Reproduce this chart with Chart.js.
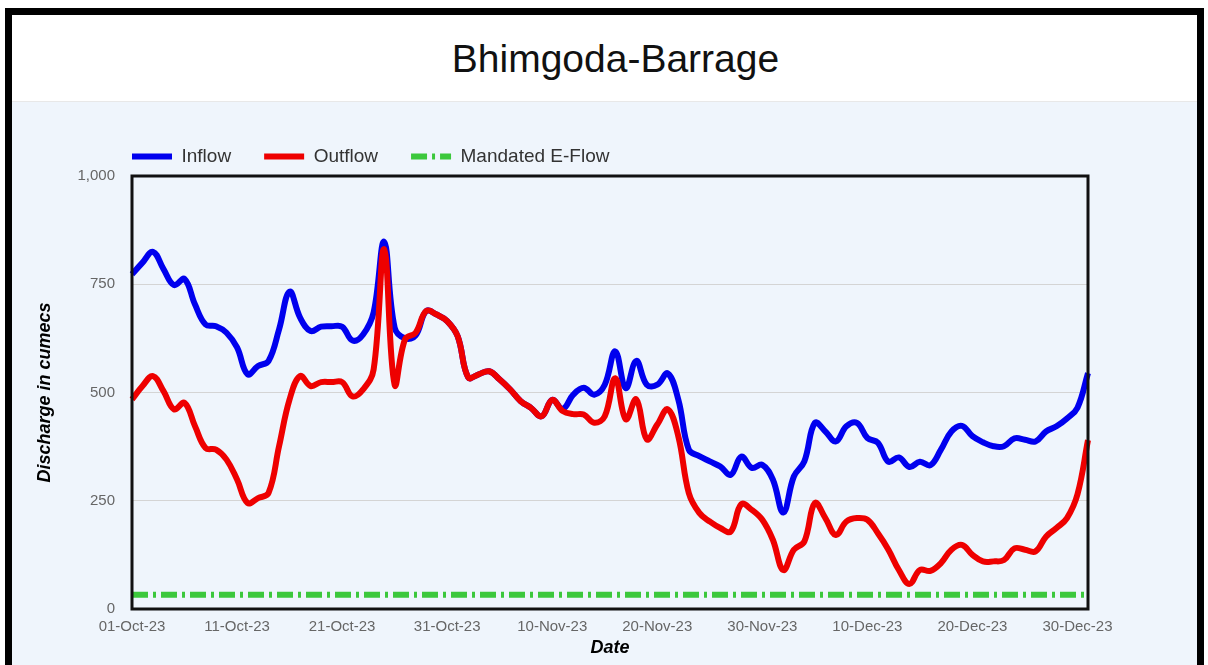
<!DOCTYPE html>
<html>
<head>
<meta charset="utf-8">
<title>Bhimgoda-Barrage</title>
<script src="https://cdn.jsdelivr.net/npm/chart.js@4.4.1/dist/chart.umd.min.js"></script>
<style>
  html, body { margin: 0; padding: 0; background: #fff; overflow: hidden; }
  .card {
    position: absolute; left: 5px; top: 8px;
    width: 1199px; height: 700px;
    border: 7px solid #000; border-bottom: none;
    box-sizing: border-box; background: #eff5fc;
  }
  .card-header {
    height: 86px; background: #fff; border-bottom: 1px solid #e8e8e8;
    padding-left: 22px; box-sizing: content-box;
    text-align: center; line-height: 88px;
    font-family: 'Liberation Sans', Arial, sans-serif; font-size: 39px; color: #111;
  }
  .chart-box { position: relative; width: 1185px; height: 563px; }
</style>
</head>
<body>
<div class="card">
  <div class="card-header">Bhimgoda-Barrage</div>
  <div class="chart-box"><canvas id="flowChart"></canvas></div>
</div>
<script>
// daily readings, 01-Oct-23 .. 31-Dec-23 (cumecs)
const inflow = [773, 800, 825, 785, 748, 762, 703, 657, 653, 638,
                604, 542, 561, 573, 646, 733, 673, 642, 652, 653,
                652, 620, 634, 685, 848, 650, 625, 632, 688, 680,
                665, 630, 535, 542, 549, 530, 507, 480, 464, 445,
                483, 462, 495, 511, 495, 518, 595, 510, 573, 518,
                518, 544, 484, 368, 353, 341, 329, 310, 352, 326,
                333, 299, 223, 306, 341, 430, 410, 387, 422, 430,
                395, 384, 340, 350, 328, 340, 332, 368, 410, 423,
                399, 385, 376, 376, 394, 391, 387, 410, 422, 440,
                465, 545];
const outflow = [484, 515, 538, 503, 461, 476, 422, 372, 368, 345,
                 299, 245, 256, 268, 376, 484, 538, 515, 524, 524,
                 524, 491, 507, 553, 831, 518, 623, 638, 688, 680,
                 665, 630, 535, 542, 549, 530, 507, 480, 464, 445,
                 483, 457, 450, 449, 430, 445, 533, 438, 484, 392,
                 426, 461, 399, 268, 222, 202, 187, 179, 242, 229,
                 206, 160, 90, 137, 156, 245, 210, 171, 202, 210,
                 206, 175, 137, 90, 58, 90, 88, 106, 137, 148,
                 125, 110, 110, 113, 140, 137, 133, 167, 187, 210,
                 265, 390];
const eflowDates = ['01-Oct-23', '31-Dec-23'];
const eflowValues = [33, 33];
const tickLabels = ['01-Oct-23', '11-Oct-23', '21-Oct-23', '31-Oct-23', '10-Nov-23',
                    '20-Nov-23', '30-Nov-23', '10-Dec-23', '20-Dec-23', '30-Dec-23'];

const months = ['Jan', 'Feb', 'Mar', 'Apr', 'May', 'Jun', 'Jul', 'Aug', 'Sep', 'Oct', 'Nov', 'Dec'];
const dates = [];
for (let i = 0; i < inflow.length; i++) {
    const d = new Date(2023, 9, 1 + i);
    dates.push(String(d.getDate()).padStart(2, '0') + '-' + months[d.getMonth()] + '-23');
}

Chart.defaults.font.family = "'Liberation Sans', Arial, sans-serif";

// frame round the plot, and legend pulled flush with the plot's left edge
const frame = {
    id: 'frame',
    beforeDraw(chart) {
        const lg = chart.legend;
        lg.left = chart.chartArea.left - lg.options.labels.padding;
    },
    afterDatasetsDraw(chart) {
        const { ctx, chartArea: a } = chart;
        ctx.save();
        ctx.strokeStyle = '#111';
        ctx.lineWidth = 3;
        ctx.strokeRect(a.left, a.top, a.right - a.left, a.bottom - a.top);
        ctx.restore();
    }
};

const ctx = document.getElementById('flowChart').getContext('2d');
new Chart(ctx, {
    type: 'line',
    data: {
        labels: dates,
        datasets: [{
            label: 'Inflow',
            data: inflow,
            borderColor: '#0000ee',
            backgroundColor: '#0000ee',
            borderWidth: 6,
            pointRadius: 0,
            tension: 0.4,
            order: 2
        }, {
            label: 'Outflow',
            data: outflow,
            borderColor: '#ee0000',
            backgroundColor: '#ee0000',
            borderWidth: 6,
            pointRadius: 0,
            tension: 0.4,
            order: 1
        }, {
            label: 'Mandated E-Flow',
            data: eflowDates.map((d, i) => ({ x: d, y: eflowValues[i] })),
            borderColor: '#3cc83c',
            backgroundColor: '#3cc83c',
            borderWidth: 6,
            borderDash: [16, 5, 3, 5],
            pointRadius: 0,
            order: 0
        }]
    },
    options: {
        responsive: true,
        maintainAspectRatio: false,
        animation: false,
        events: [],
        layout: { padding: { left: 0, right: 109, top: 12, bottom: 3 } },
        plugins: {
            legend: {
                position: 'top',
                align: 'start',
                fullSize: false,
                labels: {
                    usePointStyle: true,
                    pointStyle: 'line',
                    pointStyleWidth: 40,
                    padding: 33,
                    color: '#333',
                    font: { size: 19 },
                    sort: (a, b) => a.datasetIndex - b.datasetIndex,
                    generateLabels(chart) {
                        const items = Chart.defaults.plugins.legend.labels.generateLabels(chart);
                        items.forEach(item => {
                            item.lineDash = chart.data.datasets[item.datasetIndex].borderDash || [];
                        });
                        return items;
                    }
                }
            },
            tooltip: { enabled: false }
        },
        scales: {
            x: {
                afterFit(scale) { scale.height = 53; },
                grid: { display: false, drawTicks: false },
                border: { display: false },
                ticks: {
                    autoSkip: false,
                    maxRotation: 0,
                    color: '#666',
                    font: { size: 15 },
                    padding: 9,
                    callback(value, index) {
                        return tickLabels.includes(dates[index]) ? dates[index] : '';
                    }
                },
                title: {
                    display: true,
                    text: 'Date',
                    color: '#000',
                    font: { size: 18, weight: 'bold', style: 'italic' },
                    padding: { top: 2, bottom: 3 }
                }
            },
            y: {
                afterFit(scale) { scale.width = 120; },
                min: 0,
                max: 1000,
                grid: { color: '#d4d4d4', drawTicks: false },
                border: { display: false },
                ticks: {
                    stepSize: 250,
                    color: '#666',
                    font: { size: 15 },
                    padding: 17
                },
                title: {
                    display: true,
                    text: 'Discharge in cumecs',
                    color: '#000',
                    font: { size: 18, weight: 'bold', style: 'italic' },
                    padding: { top: 22, bottom: 21 }
                }
            }
        }
    },
    plugins: [frame]
});
</script>
</body>
</html>
